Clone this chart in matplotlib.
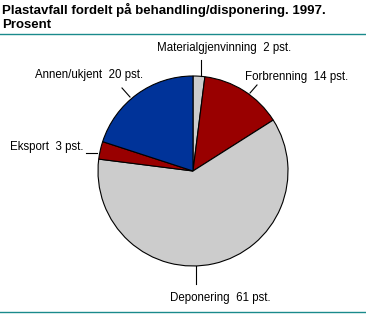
import numpy as np
import matplotlib.pyplot as plt

# Data
categories = ['Materialgjenvinning', 'Forbrenning', 'Deponering', 'Eksport', 'Annen/ukjent']
values = [2, 14, 61, 3, 20]
colors = ['#cccccc', '#990000', '#cccccc', '#990000', '#003399']

W, H = 366, 316
plt.rcParams['font.family'] = ['Liberation Sans', 'DejaVu Sans']

fig = plt.figure(figsize=(W / 100, H / 100), dpi=100)
ax = fig.add_axes([0, 0, 1, 1])

cx, cy, r = 193, 171, 95

# pie drawn in pixel space (y downwards) -> start at -90 to begin at 12 o'clock,
# counterclock in data coords shows as clockwise on screen
ax.pie(values, colors=colors, startangle=-90, counterclock=True,
       center=(cx, cy), radius=r, frame=True,
       wedgeprops=dict(edgecolor='black', linewidth=0.8))
ax.set_xlim(0, W)
ax.set_ylim(H, 0)
ax.set_aspect('auto')
ax.axis('off')

fs = 8.3

# label layout: text position, alignment, leader line ends
layout = {
    'Materialgjenvinning': dict(tx=224, ty=48, ha='center', p0=(201, 76), p1=(201, 60)),
    'Forbrenning': dict(tx=245, ty=77, ha='left', p0=(250, 93), p1=(257, 85)),
    'Deponering': dict(tx=220, ty=298, ha='center', p0=(196, 266), p1=(196, 284)),
    'Eksport': dict(tx=84, ty=147, ha='right', p0=(86, 152.5), p1=(97, 152.5)),
    'Annen/ukjent': dict(tx=89, ty=75, ha='center', p0=(130, 97), p1=(122, 88)),
}

for cat, val in zip(categories, values):
    lay = layout[cat]
    ax.text(lay['tx'], lay['ty'], f'{cat}  {val} pst.', ha=lay['ha'], va='center',
            fontsize=fs, color='black')
    ax.plot([lay['p0'][0], lay['p1'][0]], [lay['p0'][1], lay['p1'][1]],
            color='black', linewidth=0.8)

# title and rules
ax.text(2, 14, 'Plastavfall fordelt på behandling/disponering. 1997.',
        ha='left', va='baseline', fontsize=9.5, fontweight='bold')
ax.text(2, 28, 'Prosent', ha='left', va='baseline', fontsize=9.5, fontweight='bold')
ax.plot([0, W], [34, 34], color='#1a8a8c', linewidth=1)
ax.plot([0, W], [312, 312], color='#1a8a8c', linewidth=1)

fig.savefig('out.png', dpi=100)
